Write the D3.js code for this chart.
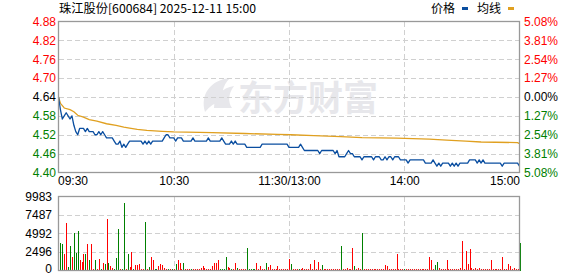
<!DOCTYPE html>
<html>
<head>
<meta charset="utf-8">
<script src="https://cdn.jsdelivr.net/npm/d3@7/dist/d3.min.js"></script>
<style>
  body { margin: 0; background: #fff; }
  text { font-family: "Liberation Sans", Arial, "Noto Sans CJK SC", sans-serif; font-size: 12px; }
</style>
</head>
<body>
<script>
var title = "珠江股份[600684] 2025-12-11 15:00";
var preClose = 4.64;

// one price per minute, 09:30 .. 11:30 / 13:01 .. 15:00
var price = [
  4.64,4.60,4.57,4.58,4.59,4.58,4.57,4.58,4.55,4.53,
  4.52,4.54,4.54,4.54,4.53,4.54,4.53,4.53,4.53,4.52,
  4.52,4.53,4.52,4.53,4.52,4.51,4.51,4.51,4.51,4.50,
  4.49,4.49,4.50,4.48,4.49,4.48,4.49,4.50,4.50,4.50,
  4.50,4.50,4.50,4.50,4.49,4.50,4.49,4.50,4.49,4.50,
  4.50,4.50,4.50,4.50,4.50,4.51,4.52,4.52,4.51,4.51,
  4.51,4.50,4.51,4.51,4.51,4.50,4.50,4.50,4.50,4.50,
  4.51,4.50,4.50,4.50,4.50,4.50,4.50,4.50,4.51,4.50,
  4.50,4.50,4.50,4.50,4.50,4.51,4.50,4.49,4.49,4.49,
  4.50,4.49,4.50,4.49,4.49,4.49,4.49,4.49,4.48,4.48,
  4.48,4.48,4.48,4.48,4.48,4.48,4.49,4.49,4.49,4.49,
  4.49,4.49,4.49,4.49,4.49,4.49,4.49,4.49,4.49,4.49,
  4.48,4.48,4.48,4.48,4.48,4.48,4.49,4.48,4.47,4.47,
  4.47,4.47,4.47,4.47,4.47,4.47,4.46,4.47,4.47,4.47,
  4.47,4.47,4.47,4.47,4.46,4.47,4.45,4.45,4.45,4.45,
  4.46,4.47,4.46,4.46,4.45,4.45,4.45,4.45,4.44,4.45,
  4.45,4.45,4.45,4.45,4.44,4.45,4.45,4.45,4.44,4.44,
  4.45,4.44,4.45,4.45,4.44,4.45,4.45,4.45,4.44,4.44,
  4.44,4.44,4.43,4.44,4.44,4.44,4.44,4.44,4.44,4.44,
  4.44,4.43,4.43,4.43,4.43,4.44,4.43,4.42,4.43,4.42,
  4.43,4.43,4.43,4.43,4.42,4.43,4.42,4.43,4.42,4.43,
  4.43,4.43,4.43,4.43,4.44,4.44,4.44,4.44,4.43,4.44,
  4.43,4.44,4.43,4.43,4.43,4.43,4.43,4.43,4.43,4.43,
  4.43,4.42,4.43,4.43,4.43,4.43,4.43,4.43,4.43,4.43,
  4.42
];

// average price line, read at a few minutes
var avgMinute = [0, 1, 3, 6, 8, 10, 13, 16, 20, 25, 30, 34, 37, 41, 46, 54, 60, 80, 97, 114, 121, 133, 147, 158, 176, 193, 202, 212, 220, 239, 240];
var avgValue  = [4.640, 4.620, 4.605, 4.600, 4.593, 4.582, 4.576, 4.568, 4.563, 4.555, 4.550, 4.544, 4.541, 4.537, 4.534, 4.531, 4.529, 4.527, 4.524, 4.521, 4.520, 4.517, 4.514, 4.511, 4.509, 4.506, 4.503, 4.500, 4.497, 4.495, 4.492];

// volume per minute and bar colour (1 = up/red, 0 = down/green)
var volume = [
  0,3749,3614,2168,6369,406,3252,1762,5014,2304,
  5285,1446,1084,2168,2168,3614,1355,3614,200,1355,
  150,1490,150,950,813,6911,1039,542,271,150,
  1626,5556,200,150,9170,150,2168,406,2530,150,
  677,677,903,150,150,6505,150,406,1762,1355,
  150,150,542,813,677,361,200,150,150,150,
  150,813,1446,950,150,950,200,150,200,150,
  200,150,200,150,361,542,271,200,150,200,
  587,950,950,1400,200,150,200,1762,406,271,
  150,150,950,271,200,150,200,150,2981,200,
  150,200,150,950,200,542,200,150,950,406,
  677,200,150,200,542,200,150,200,150,200,
  1490,813,200,150,200,150,150,361,200,150,
  200,813,200,1355,200,1129,150,678,200,150,
  200,150,200,150,200,150,200,3252,200,150,
  271,200,150,3027,542,200,271,150,5014,200,
  150,150,200,200,150,200,150,200,200,150,
  678,542,200,150,200,150,2259,200,150,200,
  150,150,200,150,200,150,200,150,200,150,
  200,150,200,1807,1446,150,678,1129,271,200,
  150,200,1355,200,150,200,150,150,150,361,
  3930,150,2620,813,2891,271,200,361,150,271,
  200,150,150,150,200,1446,200,150,200,150,
  200,1762,150,200,903,542,200,271,150,200,
  3659
];
var volUp = [
  1,0,0,1,1,0,0,1,0,0,
  0,1,1,1,0,1,0,1,1,0,
  1,1,0,1,0,1,0,1,1,0,
  0,0,1,0,0,1,0,1,1,0,
  1,1,1,1,1,0,1,0,1,1,
  0,0,1,1,1,1,1,0,1,0,
  1,0,1,1,1,0,1,1,1,0,
  1,1,1,1,1,1,1,1,1,1,
  1,1,1,1,0,0,0,0,1,1,
  0,1,1,0,1,1,1,1,0,0,
  0,0,0,1,1,1,1,1,0,1,
  1,1,1,1,1,1,1,1,1,1,
  1,0,1,1,1,0,1,1,1,1,
  1,1,1,1,1,1,1,0,1,1,
  1,1,1,1,1,1,1,0,1,1,
  1,1,1,1,0,1,1,1,0,1,
  1,1,1,1,1,1,1,1,1,1,
  1,1,1,1,1,1,1,1,1,1,
  0,1,1,1,1,1,1,1,1,1,
  1,1,1,1,1,1,0,0,1,1,
  1,1,1,1,1,1,1,1,1,1,
  1,1,1,1,1,1,1,1,1,1,
  1,1,1,1,1,1,1,1,1,1,
  1,1,1,1,1,1,1,1,1,1,
  0
];

var priceTicks = [4.88, 4.82, 4.76, 4.70, 4.64, 4.58, 4.52, 4.46, 4.40];
var pctLabels  = ["5.08%", "3.81%", "2.54%", "1.27%", "0.00%", "1.27%", "2.54%", "3.81%", "5.08%"];
var volTicks   = [0, 2496, 4992, 7487, 9983];
var timeTicks  = [0, 60, 120, 180, 240];
var timeLabels = ["09:30", "10:30", "11:30/13:00", "14:00", "15:00"];

var width = 578, height = 276;
var left = 58.5, right = 519.5;
var red = "#ff0000", green = "#008000";

var svg = d3.select("body").append("svg")
    .attr("width", width)
    .attr("height", height);

var x = d3.scaleLinear().domain([0, 240]).range([left, right]);
var y = d3.scaleLinear().domain([4.40, 4.88]).range([172.5, 21.5]);
var yv = d3.scaleLinear().domain([0, 9983]).range([270.5, 196.5]);

function labelColor(v) {
  if (Math.abs(v - preClose) < 1e-6) return "#000";
  return v > preClose ? red : green;
}

// watermark
var wm = svg.append("g").attr("fill", "#e7e7eb");
wm.append("path")
  .attr("d", "M205,112 C200,95 210,80 230,78 C222,86 220,96 226,104 C218,100 212,104 205,112 Z M214,108 C214,96 222,88 234,86 C228,94 228,102 232,108 Z");
wm.append("text")
  .attr("x", 238).attr("y", 111)
  .style("font-family", "'Noto Sans CJK SC', sans-serif")
  .style("font-size", "35px")
  .style("font-weight", "bold")
  .text("东方财富");

// grid
var grid = svg.append("g")
    .attr("stroke", "#d0d0d0")
    .attr("stroke-dasharray", "5,3")
    .attr("shape-rendering", "crispEdges");

grid.selectAll("line.hp")
  .data(priceTicks.slice(1, -1))
  .enter().append("line")
    .attr("x1", left).attr("x2", right)
    .attr("y1", function(d) { return Math.round(y(d)) + 0.5; })
    .attr("y2", function(d) { return Math.round(y(d)) + 0.5; });

grid.selectAll("line.hv")
  .data(volTicks.slice(1, -1))
  .enter().append("line")
    .attr("x1", left).attr("x2", right)
    .attr("y1", function(d) { return Math.round(yv(d)) + 0.5; })
    .attr("y2", function(d) { return Math.round(yv(d)) + 0.5; });

timeTicks.slice(1, -1).forEach(function(t) {
  var xx = Math.round(x(t)) + 0.5;
  grid.append("line").attr("x1", xx).attr("x2", xx).attr("y1", 21.5).attr("y2", 172.5);
  grid.append("line").attr("x1", xx).attr("x2", xx).attr("y1", 196.5).attr("y2", 270.5);
});

// volume bars
svg.append("g")
    .attr("shape-rendering", "crispEdges")
  .selectAll("rect")
  .data(volume)
  .enter().append("rect")
    .attr("x", function(d, i) { return Math.round(x(i)); })
    .attr("width", 1)
    .attr("y", function(d) { return yv(d); })
    .attr("height", function(d) { return yv(0) - yv(d); })
    .attr("fill", function(d, i) { return volUp[i] ? red : green; });

// average line
var avgLine = d3.line()
    .x(function(d) { return x(d[0]); })
    .y(function(d) { return y(d[1]); });
svg.append("path")
    .datum(d3.zip(avgMinute, avgValue))
    .attr("fill", "none")
    .attr("stroke", "#e0a020")
    .attr("stroke-width", 1.3)
    .attr("d", avgLine);

// price line
var priceLine = d3.line()
    .x(function(d, i) { return x(i); })
    .y(function(d) { return y(d); });
svg.append("path")
    .datum(price)
    .attr("fill", "none")
    .attr("stroke", "#0a4ea0")
    .attr("stroke-width", 1.3)
    .attr("stroke-linejoin", "round")
    .attr("d", priceLine);

// frames
svg.append("rect")
    .attr("x", left).attr("y", 21.5)
    .attr("width", right - left).attr("height", 151)
    .attr("fill", "none").attr("stroke", "#999").attr("stroke-width", 1.3);
svg.append("rect")
    .attr("x", left).attr("y", 196.5)
    .attr("width", right - left).attr("height", 74)
    .attr("fill", "none").attr("stroke", "#999").attr("stroke-width", 1.3);

// left price axis
var ax = svg.append("g")
    .attr("transform", "translate(56,0)")
    .call(d3.axisLeft(y).tickValues(priceTicks).tickSize(0).tickPadding(0).tickFormat(d3.format(".2f")));
ax.select(".domain").remove();
ax.selectAll("text")
    .style("font-size", "12px")
    .style("font-family", "'Liberation Sans', Arial, sans-serif")
    .attr("fill", function(d) { return labelColor(d); });

// right percent axis
var ar = svg.append("g")
    .attr("transform", "translate(524,0)")
    .call(d3.axisRight(y).tickValues(priceTicks).tickSize(0).tickPadding(0)
      .tickFormat(function(d, i) { return pctLabels[i]; }));
ar.select(".domain").remove();
ar.selectAll("text")
    .style("font-size", "12px")
    .style("font-family", "'Liberation Sans', Arial, sans-serif")
    .attr("fill", function(d) { return labelColor(d); });

// volume axis
var av = svg.append("g")
    .attr("transform", "translate(52,0)")
    .call(d3.axisLeft(yv).tickValues(volTicks).tickSize(0).tickPadding(0).tickFormat(d3.format("d")));
av.select(".domain").remove();
av.selectAll("text")
    .style("font-size", "12px")
    .style("font-family", "'Liberation Sans', Arial, sans-serif")
    .attr("fill", "#000");
// keep the bottom "0" inside the picture
av.selectAll(".tick").filter(function(d) { return d === 0; }).select("text").attr("dy", "0.2em");

// time axis
var at = svg.append("g")
    .attr("transform", "translate(0,176)")
    .call(d3.axisBottom(x).tickValues(timeTicks).tickSize(0).tickPadding(0)
      .tickFormat(function(d, i) { return timeLabels[i]; }));
at.select(".domain").remove();
at.selectAll("text")
    .style("font-size", "12px")
    .style("font-family", "'Liberation Sans', Arial, sans-serif")
    .attr("fill", "#000")
    .attr("text-anchor", function(d, i) { return i === 0 ? "start" : (i === timeTicks.length - 1 ? "end" : "middle"); });
at.selectAll(".tick").filter(function(d, i) { return i === 0; }).select("text").attr("x", -1);

// title
svg.append("text")
    .attr("x", 59).attr("y", 13)
    .attr("textLength", 197)
    .attr("lengthAdjust", "spacingAndGlyphs")
    .style("font-family", "'Noto Sans CJK SC', sans-serif")
    .style("font-size", "12px")
    .attr("fill", "#000")
    .text(title);

// legend
var legendNames  = ["价格", "均线"];
var legendColors = ["#0a4ea0", "#e0a020"];
var lg = svg.append("g");
legendNames.forEach(function(name, i) {
  var lx = 431 + i * 46;
  lg.append("text")
    .attr("x", lx).attr("y", 13)
    .style("font-family", "'Noto Sans CJK SC', sans-serif")
    .style("font-size", "12px")
    .attr("fill", "#000")
    .text(name);
  lg.append("rect")
    .attr("x", lx + 31).attr("y", 7)
    .attr("width", 6).attr("height", 3)
    .attr("fill", legendColors[i]);
});
</script>
</body>
</html>
